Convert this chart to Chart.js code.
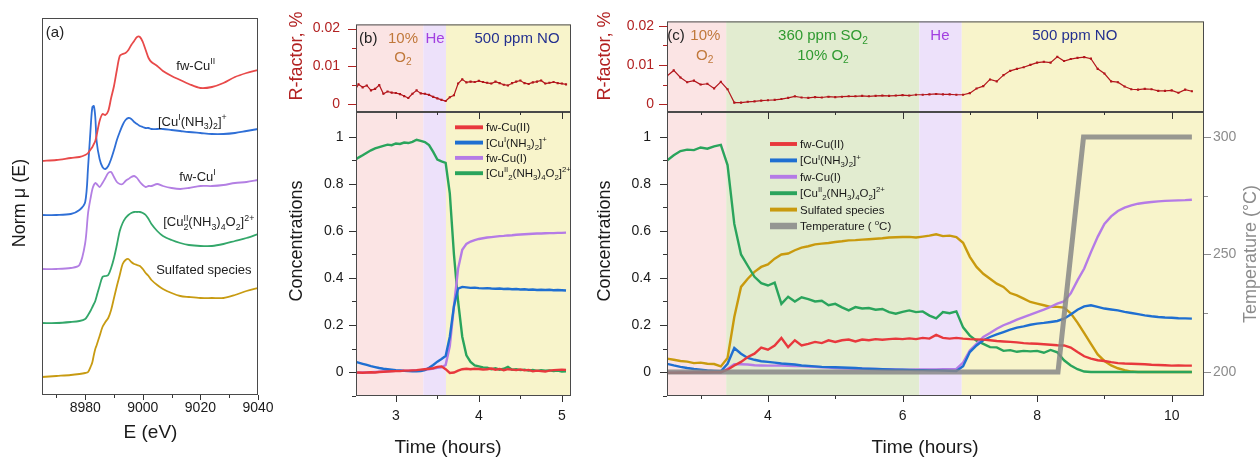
<!DOCTYPE html>
<html lang="en">
<head>
<meta charset="utf-8">
<title>Cu speciation during O2 / SO2 / NO exposure</title>
<script src="https://cdn.jsdelivr.net/npm/chart.js@4.4.1/dist/chart.umd.min.js"></script>
<style>
  html, body { margin: 0; padding: 0; background: #ffffff; }
  #figure { position: relative; width: 1260px; height: 458px; overflow: hidden; }
  #figure canvas { position: absolute; left: 0; top: 0; }
</style>
</head>
<body>
<div id="figure">
  <canvas id="panelA" width="1260" height="458"></canvas>
  <canvas id="panelBTop" width="1260" height="458"></canvas>
  <canvas id="panelBBottom" width="1260" height="458"></canvas>
  <canvas id="panelCTop" width="1260" height="458"></canvas>
  <canvas id="panelCBottom" width="1260" height="458"></canvas>
</div>
<script>
const FONT = "'Liberation Sans', Arial, Helvetica, sans-serif";
Chart.defaults.font.family = FONT;
Chart.defaults.color = "#1a1a1a";

// (a) reference XANES spectra, normalised, stacked by specOffset
const energy = [8965, 8970, 8975, 8978, 8980, 8981, 8982, 8982.5, 8983, 8983.5, 8984, 8985, 8986, 8987, 8988, 8989, 8990, 8991, 8992, 8993, 8994, 8995, 8996, 8997, 8998, 8999, 9000, 9001, 9002, 9003, 9005, 9007, 9010, 9013, 9016, 9020, 9024, 9028, 9032, 9036, 9040];
const muCuII = [0.00, 0.01, 0.03, 0.04, 0.06, 0.08, 0.12, 0.14, 0.17, 0.20, 0.26, 0.40, 0.47, 0.46, 0.50, 0.63, 0.75, 0.91, 1.05, 1.07, 1.08, 1.11, 1.16, 1.20, 1.24, 1.24, 1.19, 1.11, 1.03, 0.99, 0.95, 0.90, 0.85, 0.81, 0.77, 0.73, 0.74, 0.78, 0.84, 0.88, 0.91];
const muCuINH3 = [0.00, 0.00, 0.01, 0.05, 0.13, 0.48, 0.92, 1.08, 1.09, 0.98, 0.73, 0.56, 0.48, 0.46, 0.49, 0.56, 0.65, 0.75, 0.83, 0.90, 0.95, 0.97, 0.96, 0.93, 0.91, 0.89, 0.88, 0.87, 0.87, 0.86, 0.86, 0.86, 0.85, 0.84, 0.83, 0.82, 0.81, 0.81, 0.82, 0.84, 0.86];
const muCuI = [0.00, 0.00, 0.01, 0.04, 0.26, 0.56, 0.73, 0.80, 0.84, 0.86, 0.85, 0.82, 0.86, 0.91, 0.96, 0.97, 0.92, 0.87, 0.85, 0.85, 0.88, 0.90, 0.92, 0.93, 0.91, 0.87, 0.84, 0.82, 0.83, 0.83, 0.85, 0.83, 0.81, 0.80, 0.81, 0.83, 0.83, 0.84, 0.86, 0.87, 0.89];
const muDimer = [0.00, 0.00, 0.01, 0.02, 0.04, 0.08, 0.13, 0.16, 0.19, 0.22, 0.27, 0.37, 0.46, 0.47, 0.48, 0.55, 0.65, 0.78, 0.92, 1.00, 1.05, 1.08, 1.10, 1.11, 1.11, 1.11, 1.10, 1.08, 1.04, 0.99, 0.92, 0.87, 0.83, 0.80, 0.78, 0.77, 0.77, 0.79, 0.82, 0.85, 0.89];
const muSulfated = [0.00, 0.01, 0.02, 0.03, 0.04, 0.05, 0.11, 0.15, 0.22, 0.28, 0.32, 0.41, 0.50, 0.55, 0.59, 0.67, 0.79, 0.91, 1.02, 1.13, 1.17, 1.18, 1.15, 1.13, 1.12, 1.11, 1.08, 1.04, 1.01, 0.97, 0.92, 0.88, 0.84, 0.81, 0.80, 0.79, 0.79, 0.79, 0.82, 0.86, 0.89];
const specOffset = [2.34, 1.80, 1.26, 0.72, 0.18];
const energyTicks = [8980, 9000, 9020, 9040];
const energyMinor = [8970, 8990, 9010, 9030];

// (b) O2 -> He -> NO, sampled every 0.05 h
const tB = Array.from({ length: 52 }, (_, i) => 2.5 + i * 0.05);
const rfB = [0.0034, 0.0053, 0.0045, 0.0050, 0.0037, 0.0041, 0.0051, 0.0028, 0.0034, 0.0031,
  0.0030, 0.0027, 0.0022, 0.0017, 0.0028, 0.0037, 0.0029, 0.0028, 0.0025, 0.0020,
  0.0016, 0.0012, 0.0009, 0.0019, 0.0024, 0.0055, 0.0066, 0.0058, 0.0060, 0.0059,
  0.0062, 0.0059, 0.0057, 0.0055, 0.0060, 0.0056, 0.0052, 0.0050, 0.0056, 0.0060,
  0.0063, 0.0056, 0.0054, 0.0058, 0.0060, 0.0063, 0.0055, 0.0057, 0.0059, 0.0056,
  0.0055, 0.0053];
const cuIIB = [-0.003, -0.002, -0.003, -0.002, -0.001, -0.002, 0.000, 0.001, 0.002, 0.003,
  0.004, 0.004, 0.006, 0.006, 0.007, 0.008, 0.010, 0.012, 0.014, 0.016,
  0.022, 0.024, 0.012, -0.004, -0.002, 0.006, 0.012, 0.014, 0.012, 0.014,
  0.013, 0.011, 0.012, 0.015, 0.010, 0.013, 0.008, 0.012, 0.010, 0.008,
  0.011, 0.007, 0.009, 0.003, 0.006, 0.004, 0.002, 0.006, 0.008, 0.009,
  0.010, 0.009];
const cuINH3B = [0.044, 0.040, 0.035, 0.030, 0.025, 0.021, 0.017, 0.014, 0.012, 0.010,
  0.008, 0.007, 0.005, 0.004, 0.003, 0.003, 0.004, 0.008, 0.018, 0.030,
  0.044, 0.055, 0.068, 0.150, 0.280, 0.355, 0.362, 0.360, 0.358, 0.359,
  0.357, 0.356, 0.357, 0.355, 0.354, 0.355, 0.353, 0.354, 0.352, 0.353,
  0.351, 0.352, 0.350, 0.351, 0.349, 0.350, 0.349, 0.350, 0.348, 0.349,
  0.348, 0.347];
const cuIB = [-0.003, -0.003, -0.002, -0.002, -0.001, 0.000, 0.001, 0.002, 0.003, 0.004,
  0.005, 0.005, 0.006, 0.006, 0.007, 0.008, 0.008, 0.010, 0.012, 0.015,
  0.018, 0.020, 0.030, 0.110, 0.280, 0.440, 0.520, 0.545, 0.555, 0.561,
  0.566, 0.569, 0.572, 0.574, 0.576, 0.578, 0.579, 0.581, 0.582, 0.584,
  0.585, 0.586, 0.587, 0.588, 0.589, 0.589, 0.590, 0.591, 0.591, 0.592,
  0.592, 0.593];
const dimerB = [0.900, 0.912, 0.922, 0.933, 0.943, 0.951, 0.957, 0.962, 0.967, 0.965,
  0.972, 0.970, 0.976, 0.974, 0.979, 0.988, 0.983, 0.978, 0.965, 0.936,
  0.904, 0.896, 0.890, 0.760, 0.500, 0.300, 0.150, 0.071, 0.043, 0.028,
  0.024, 0.020, 0.018, 0.012, 0.016, 0.010, 0.014, 0.022, 0.010, 0.012,
  0.008, 0.010, 0.006, 0.009, 0.005, 0.008, 0.006, 0.007, 0.004, 0.006,
  0.002, 0.003];
const bandsB = [[2.0, 3.331, "o2"], [3.331, 3.604, "he"], [3.604, 6.0, "no"]];

// (c) O2 -> SO2 + O2 -> He -> NO with temperature ramp, sampled every 0.1 h
const tC = Array.from({ length: 79 }, (_, i) => 2.5 + i * 0.1);
const rfC = [0.0072, 0.0086, 0.0068, 0.0056, 0.0060, 0.0050, 0.0052, 0.0040, 0.0057, 0.0038,
  0.0004, 0.0004, 0.0006, 0.0007, 0.0009, 0.0010, 0.0011, 0.0013, 0.0016, 0.0020,
  0.0017, 0.0016, 0.0018, 0.0017, 0.0019, 0.0018, 0.0019, 0.0020, 0.0020, 0.0021,
  0.0020, 0.0021, 0.0022, 0.0021, 0.0022, 0.0023, 0.0022, 0.0024, 0.0024, 0.0025,
  0.0026, 0.0025, 0.0025, 0.0024, 0.0024, 0.0028, 0.0040, 0.0046, 0.0063, 0.0058,
  0.0074, 0.0085, 0.0090, 0.0094, 0.0100, 0.0106, 0.0108, 0.0106, 0.0121, 0.0110,
  0.0115, 0.0118, 0.0120, 0.0116, 0.0090, 0.0078, 0.0058, 0.0056, 0.0045, 0.0038,
  0.0037, 0.0039, 0.0038, 0.0034, 0.0034, 0.0035, 0.0029, 0.0037, 0.0033];
const cuIIC = [-0.003, -0.003, -0.002, -0.003, -0.002, -0.002, -0.002, -0.001, -0.001, 0.010,
  0.028, 0.043, 0.064, 0.078, 0.104, 0.095, 0.113, 0.145, 0.106, 0.135,
  0.113, 0.120, 0.128, 0.123, 0.135, 0.128, 0.135, 0.138, 0.130, 0.138,
  0.135, 0.140, 0.137, 0.140, 0.142, 0.140, 0.143, 0.140, 0.145, 0.142,
  0.158, 0.145, 0.142, 0.145, 0.142, 0.140, 0.139, 0.138, 0.135, 0.132,
  0.130, 0.128, 0.126, 0.123, 0.121, 0.120, 0.118, 0.116, 0.114, 0.113,
  0.104, 0.085, 0.067, 0.057, 0.050, 0.047, 0.042, 0.038, 0.036, 0.035,
  0.034, 0.033, 0.031, 0.030, 0.029, 0.027, 0.028, 0.027, 0.027];
const cuINH3C = [0.035, 0.028, 0.022, 0.017, 0.013, 0.010, 0.007, 0.005, 0.003, 0.035,
  0.102, 0.078, 0.060, 0.052, 0.046, 0.043, 0.040, 0.036, 0.034, 0.032,
  0.028, 0.026, 0.024, 0.022, 0.021, 0.020, 0.019, 0.018, 0.017, 0.015,
  0.014, 0.013, 0.012, 0.011, 0.010, 0.010, 0.009, 0.008, 0.008, 0.007,
  0.007, 0.006, 0.005, 0.004, 0.025, 0.085, 0.113, 0.135, 0.149, 0.160,
  0.170, 0.180, 0.189, 0.194, 0.201, 0.206, 0.209, 0.213, 0.217, 0.227,
  0.245, 0.265, 0.279, 0.284, 0.277, 0.270, 0.266, 0.262, 0.256, 0.251,
  0.246, 0.241, 0.237, 0.234, 0.232, 0.231, 0.229, 0.228, 0.227];
const cuIC = [-0.003, -0.003, -0.003, -0.003, -0.002, -0.002, -0.002, -0.002, -0.002, 0.014,
  0.033, 0.033, 0.032, 0.029, 0.028, 0.027, 0.027, 0.028, 0.026, 0.025,
  0.025, 0.023, 0.022, 0.020, 0.019, 0.017, 0.016, 0.015, 0.014, 0.014,
  0.013, 0.013, 0.012, 0.012, 0.011, 0.010, 0.010, 0.011, 0.011, 0.011,
  0.011, 0.012, 0.012, 0.013, 0.040, 0.092, 0.120, 0.149, 0.166, 0.184,
  0.199, 0.210, 0.223, 0.234, 0.244, 0.255, 0.265, 0.277, 0.291, 0.300,
  0.335, 0.390, 0.440, 0.510, 0.575, 0.630, 0.662, 0.685, 0.699, 0.709,
  0.716, 0.720, 0.723, 0.726, 0.728, 0.729, 0.730, 0.731, 0.733];
const dimerC = [0.900, 0.922, 0.940, 0.946, 0.944, 0.955, 0.950, 0.960, 0.966, 0.880,
  0.630, 0.500, 0.452, 0.405, 0.378, 0.368, 0.380, 0.290, 0.320, 0.300,
  0.318, 0.310, 0.300, 0.303, 0.284, 0.290, 0.275, 0.262, 0.276, 0.270,
  0.272, 0.265, 0.268, 0.255, 0.248, 0.256, 0.262, 0.255, 0.258, 0.240,
  0.228, 0.255, 0.250, 0.258, 0.190, 0.155, 0.133, 0.120, 0.106, 0.105,
  0.090, 0.093, 0.086, 0.090, 0.088, 0.090, 0.082, 0.094, 0.084, 0.050,
  0.028, 0.012, 0.002, 0.000, 0.000, 0.000, 0.000, 0.000, 0.000, 0.000,
  0.000, 0.000, 0.000, 0.000, 0.000, 0.000, 0.000, 0.000, 0.000];
const sulfC = [0.057, 0.052, 0.047, 0.044, 0.038, 0.040, 0.035, 0.034, 0.024, 0.060,
  0.234, 0.362, 0.397, 0.426, 0.447, 0.458, 0.482, 0.500, 0.504, 0.518,
  0.529, 0.535, 0.543, 0.546, 0.549, 0.553, 0.556, 0.560, 0.561, 0.563,
  0.565, 0.567, 0.569, 0.572, 0.573, 0.574, 0.575, 0.572, 0.576, 0.580,
  0.586, 0.578, 0.580, 0.574, 0.550, 0.490, 0.447, 0.418, 0.397, 0.376,
  0.362, 0.336, 0.326, 0.312, 0.298, 0.291, 0.284, 0.277, 0.277, 0.274,
  0.250, 0.210, 0.165, 0.120, 0.075, 0.047, 0.028, 0.016, 0.008, 0.002,
  0.000, 0.000, 0.000, 0.000, 0.000, 0.000, 0.000, 0.000, 0.000];
const tempT = [2.5, 8.31, 8.69, 10.3];
const tempV = [200, 200, 300, 300];
const bandsC = [[2.0, 3.38, "o2"], [3.38, 6.25, "so2"], [6.25, 6.88, "he"], [6.88, 11.0, "no"]];

// shared axis ticks
const concTicks = [0, 0.2, 0.4, 0.6, 0.8, 1];
const concMinor = [-0.1, 0.1, 0.3, 0.5, 0.7, 0.9];
const rfTicks = [0, 0.01, 0.02];
const rfMinor = [0.005, 0.015];
const timeTicksB = [3, 4, 5];
const timeMinorB = [3.5, 4.5];
const timeTicksC = [4, 6, 8, 10];
const timeMinorC = [3, 5, 7, 9];
const tempTicks = [200, 250, 300];
const tempMinor = [225, 275];

const COL = {
  cuII: "#e8383d", cuINH3: "#1f6fd1", cuI: "#b57be6", dimer: "#2aa45c",
  sulf: "#c99a0e", temp: "rgba(135,135,135,0.85)", rf: "#b3161c",
  rfText: "#b22222", tempText: "#8c8c8c"
};
const BAND = { o2: "#fbe4e4", he: "#ede1fa", no: "#f8f4cb", so2: "#e2ecd0" };
const NAMES = {
  cuII: "fw-Cu(II)",
  cuINH3: "[Cu^{I}(NH_{3})_{2}]^{+}",
  cuI: "fw-Cu(I)",
  dimer: "[Cu^{II}\u200b_{2}(NH_{3})_{4}O_{2}]^{2+}",
  sulf: "Sulfated species",
  temp: "Temperature ( ^{o}C)"
};

// tiny markup: ^{sup} _{sub}; a sub right after a sup is stacked under it
function parseRich(str) {
  const out = [];
  const re = /([\^_])\{([^}]*)\}|([^\^_]+)/g;
  let m;
  while ((m = re.exec(str))) {
    if (m[3] !== undefined) out.push({ t: m[3], m: 0 });
    else out.push({ t: m[2], m: m[1] === "^" ? 1 : -1 });
  }
  return out;
}

function drawRich(ctx, str, x, y, size, color, align) {
  let pos = 0, prev = null;
  const items = [];
  for (const p of parseRich(str)) {
    const fs = p.m ? size * 0.68 : size;
    ctx.font = fs + "px " + FONT;
    const w = ctx.measureText(p.t).width;
    let x0 = pos;
    if (prev && prev.m === 1 && p.m === -1) {
      x0 = prev.x;
      pos = Math.max(prev.x + prev.w, x0 + w);
    } else {
      pos += w;
    }
    const it = { t: p.t, m: p.m, fs, x: x0, w };
    items.push(it);
    prev = it;
  }
  const start = align === "center" ? x - pos / 2 : align === "right" ? x - pos : x;
  const base = y + size * 0.35;
  ctx.fillStyle = color;
  ctx.textAlign = "left";
  ctx.textBaseline = "alphabetic";
  for (const it of items) {
    ctx.font = it.fs + "px " + FONT;
    const dy = it.m > 0 ? -size * 0.42 : it.m < 0 ? size * 0.25 : 0;
    ctx.fillText(it.t, start + it.x, base + dy);
  }
}

// shaded gas periods, frame, tick marks, notes, legend and axis titles
function decor(cfg) {
  return {
    id: "decor",
    beforeDatasetsDraw(chart) {
      const { ctx, chartArea: a } = chart;
      const xs = chart.scales.x;
      ctx.save();
      (cfg.bands || []).forEach(([from, to, key]) => {
        const x0 = Math.max(a.left, xs.getPixelForValue(from));
        const x1 = Math.min(a.right, xs.getPixelForValue(to));
        ctx.fillStyle = BAND[key];
        ctx.fillRect(x0, a.top, x1 - x0, a.bottom - a.top);
      });
      ctx.restore();
    },
    afterDraw(chart) {
      const { ctx, chartArea: a } = chart;
      ctx.save();
      ctx.strokeStyle = "#4a4a4a";
      ctx.lineWidth = 1;
      ctx.strokeRect(a.left + 0.5, a.top + 0.5, a.right - a.left - 1, a.bottom - a.top - 1);

      (cfg.marks || []).forEach(m => {
        const s = chart.scales[m.scale];
        ctx.strokeStyle = m.color || "#333";
        ctx.lineWidth = 1;
        ctx.beginPath();
        m.values.forEach(v => {
          const p = Math.round(s.getPixelForValue(v)) + 0.5;
          if (m.edge === "bottom") { ctx.moveTo(p, a.bottom); ctx.lineTo(p, a.bottom + m.len); }
          else if (m.edge === "top") { ctx.moveTo(p, a.top); ctx.lineTo(p, a.top - m.len); }
          else if (m.edge === "left") { ctx.moveTo(a.left, p); ctx.lineTo(a.left - m.len, p); }
          else { ctx.moveTo(a.right, p); ctx.lineTo(a.right + m.len, p); }
        });
        ctx.stroke();
      });

      (cfg.notes || []).forEach(n => {
        const x = chart.scales.x.getPixelForValue(n.x);
        const y = chart.scales.y.getPixelForValue(n.y);
        drawRich(ctx, n.text, x, y, n.size || 15, n.color || "#222", "center");
      });

      if (cfg.legend) {
        const L = cfg.legend;
        chart.data.datasets.forEach((ds, i) => {
          const y = L.y + i * L.dy;
          ctx.strokeStyle = ds.borderColor;
          ctx.lineWidth = ds.borderWidth + 1.5;
          ctx.beginPath();
          ctx.moveTo(L.x0, y);
          ctx.lineTo(L.x1, y);
          ctx.stroke();
          drawRich(ctx, ds.label, L.tx, y, L.size, "#1a1a1a", "left");
        });
      }

      (cfg.titles || []).forEach(t => {
        ctx.save();
        ctx.translate(t.x, t.y);
        if (t.rot) ctx.rotate(-Math.PI / 2);
        ctx.font = (t.size || 18) + "px " + FONT;
        ctx.fillStyle = t.color || "#1a1a1a";
        ctx.textAlign = "center";
        ctx.textBaseline = "middle";
        ctx.fillText(t.text, 0, 0);
        ctx.restore();
      });
      ctx.restore();
    }
  };
}

// linear axis with a fixed box size so every plot area lands where it should
function axis({ min, max, ticks, pos, size, pad = 6, color = "#1a1a1a" }) {
  const ax = {
    type: "linear", position: pos, min, max, display: true,
    grid: { display: false, drawTicks: false },
    border: { display: false },
    ticks: { display: false },
    afterFit: s => { if (s.isHorizontal()) s.height = size; else s.width = size; }
  };
  if (ticks) {
    ax.ticks = {
      display: true, padding: pad, color, font: { size: 14 },
      autoSkip: false, maxRotation: 0,
      callback: v => String(+(+v).toFixed(4))
    };
    ax.afterBuildTicks = s => { s.ticks = ticks.map(v => ({ value: v })); };
  }
  return ax;
}

function series(label, xs, ys, color, width, extra) {
  return Object.assign({
    label,
    data: xs.map((x, i) => ({ x, y: ys[i] })),
    borderColor: color,
    backgroundColor: color,
    borderWidth: width,
    pointRadius: 0,
    tension: 0,
    fill: false
  }, extra || {});
}

function rfSeries(xs, ys) {
  return series("R-factor", xs, ys, COL.rf, 1.2, {
    pointRadius: 1.5, pointStyle: "rect", pointBorderWidth: 0, pointBackgroundColor: COL.rf
  });
}

function panel(id, padding, scales, datasets, deco) {
  return new Chart(document.getElementById(id), {
    type: "line",
    data: { datasets },
    options: {
      responsive: false,
      animation: false,
      devicePixelRatio: 1,
      events: [],
      layout: { padding },
      plugins: { legend: { display: false }, tooltip: { enabled: false } },
      scales
    },
    plugins: [decor(deco)]
  });
}

// ---------- (a) ----------
const specColors = ["#e84a4a", "#2f6fd6", "#b37fe3", "#33a76a", "#c89b12"];
const specLabels = ["fw-CuII", "[CuI(NH3)2]+", "fw-CuI", "[CuII2(NH3)4O2]2+", "Sulfated species"];
panel("panelA",
  { left: 9, top: 18, right: 1002, bottom: 0 },
  {
    x: axis({ min: 8965, max: 9040, ticks: energyTicks, pos: "bottom", size: 63, pad: 5 }),
    y: axis({ min: 0, max: 3.77, ticks: null, pos: "left", size: 33 })
  },
  [muCuII, muCuINH3, muCuI, muDimer, muSulfated].map((mu, k) =>
    series(specLabels[k], energy, mu.map(v => v + specOffset[k]), specColors[k], 1.8, { tension: 0.3 })),
  {
    marks: [
      { scale: "x", edge: "bottom", values: energyTicks, len: 5 },
      { scale: "x", edge: "bottom", values: energyMinor, len: 3 }
    ],
    notes: [
      { text: "(a)", x: 8969.5, y: 3.63, size: 15 },
      { text: "fw-Cu^{II}", x: 9018.4, y: 3.30, size: 13 },
      { text: "[Cu^{I}(NH_{3})_{2}]^{+}", x: 9017.2, y: 2.74, size: 13 },
      { text: "fw-Cu^{I}", x: 9019, y: 2.19, size: 13 },
      { text: "[Cu^{II}_{2}(NH_{3})_{4}O_{2}]^{2+}", x: 9022.9, y: 1.733, size: 13 },
      { text: "Sulfated species", x: 9021.2, y: 1.26, size: 13 }
    ],
    titles: [
      { text: "Norm \u03bc (E)", x: 20, y: 203, rot: true, size: 18 },
      { text: "E (eV)", x: 150.5, y: 433, size: 19 }
    ]
  });

// ---------- (b) ----------
const NOTE = { o2: "#c0783a", he: "#a23fe0", no: "#24308f", so2: "#2f9a30" };
panel("panelBTop",
  { left: 286, top: 18, right: 689, bottom: 346 },
  {
    x: { type: "linear", min: 2.52, max: 5.11, display: false },
    y: axis({ min: -0.002, max: 0.0211, ticks: rfTicks, pos: "left", size: 70, pad: 16, color: COL.rfText })
  },
  [rfSeries(tB, rfB)],
  {
    bands: bandsB,
    marks: [
      { scale: "y", edge: "left", values: rfTicks, len: 8, color: COL.rfText },
      { scale: "y", edge: "left", values: rfMinor, len: 4, color: COL.rfText }
    ],
    notes: [
      { text: "(b)", x: 2.668, y: 0.0177, color: "#222" },
      { text: "10%", x: 3.086, y: 0.0177, color: NOTE.o2 },
      { text: "O_{2}", x: 3.086, y: 0.0127, color: NOTE.o2 },
      { text: "He", x: 3.472, y: 0.0177, color: NOTE.he },
      { text: "500 ppm NO", x: 4.46, y: 0.0177, color: NOTE.no }
    ],
    titles: [{ text: "R-factor, %", x: 297, y: 56, rot: true, color: COL.rfText }]
  });

panel("panelBBottom",
  { left: 286, top: 112, right: 689, bottom: 0 },
  {
    x: axis({ min: 2.52, max: 5.11, ticks: timeTicksB, pos: "bottom", size: 62, pad: 11.6 }),
    y: axis({ min: -0.102, max: 1.106, ticks: concTicks, pos: "left", size: 70, pad: 12.5 })
  },
  [
    series(NAMES.cuII, tB, cuIIB, COL.cuII, 2.4),
    series(NAMES.cuINH3, tB, cuINH3B, COL.cuINH3, 2.4),
    series(NAMES.cuI, tB, cuIB, COL.cuI, 2.4),
    series(NAMES.dimer, tB, dimerB, COL.dimer, 2.4)
  ],
  {
    bands: bandsB,
    marks: [
      { scale: "y", edge: "left", values: concTicks, len: 7 },
      { scale: "y", edge: "left", values: concMinor, len: 4 },
      { scale: "x", edge: "bottom", values: timeTicksB, len: 6 },
      { scale: "x", edge: "bottom", values: timeMinorB, len: 3 },
      { scale: "x", edge: "top", values: timeTicksB, len: -7 },
      { scale: "x", edge: "top", values: timeMinorB, len: -3 }
    ],
    legend: { x0: 455, x1: 483, tx: 486, y: 127.3, dy: 15.3, size: 11.5 },
    titles: [
      { text: "Concentrations", x: 297, y: 241, rot: true },
      { text: "Time (hours)", x: 448, y: 447.5, size: 19 }
    ]
  });

// ---------- (c) ----------
panel("panelCTop",
  { left: 596, top: 18, right: 56, bottom: 346 },
  {
    x: { type: "linear", min: 2.5, max: 10.48, display: false },
    y: axis({ min: -0.002, max: 0.0211, ticks: rfTicks, pos: "left", size: 71, pad: 13, color: COL.rfText })
  },
  [rfSeries(tC, rfC)],
  {
    bands: bandsC,
    marks: [
      { scale: "y", edge: "left", values: rfTicks, len: 8, color: COL.rfText },
      { scale: "y", edge: "left", values: rfMinor, len: 4, color: COL.rfText }
    ],
    notes: [
      { text: "(c)", x: 2.634, y: 0.0177, color: "#222" },
      { text: "10%", x: 3.07, y: 0.0177, color: NOTE.o2 },
      { text: "O_{2}", x: 3.06, y: 0.0127, color: NOTE.o2 },
      { text: "360 ppm SO_{2}", x: 4.818, y: 0.0177, color: NOTE.so2 },
      { text: "10% O_{2}", x: 4.818, y: 0.0127, color: NOTE.so2 },
      { text: "He", x: 6.556, y: 0.0177, color: NOTE.he },
      { text: "500 ppm NO", x: 8.56, y: 0.0177, color: NOTE.no }
    ],
    titles: [{ text: "R-factor, %", x: 605, y: 56, rot: true, color: COL.rfText }]
  });

panel("panelCBottom",
  { left: 596, top: 112, right: 6, bottom: 0 },
  {
    x: axis({ min: 2.5, max: 10.48, ticks: timeTicksC, pos: "bottom", size: 62, pad: 11.6 }),
    y: axis({ min: -0.102, max: 1.106, ticks: concTicks, pos: "left", size: 71, pad: 16 }),
    yT: axis({ min: 189.8, max: 310.6, ticks: tempTicks, pos: "right", size: 50, pad: 9, color: COL.tempText })
  },
  [
    series(NAMES.cuII, tC, cuIIC, COL.cuII, 2.4),
    series(NAMES.cuINH3, tC, cuINH3C, COL.cuINH3, 2.4),
    series(NAMES.cuI, tC, cuIC, COL.cuI, 2.4),
    series(NAMES.dimer, tC, dimerC, COL.dimer, 2.4),
    series(NAMES.sulf, tC, sulfC, COL.sulf, 2.4),
    series(NAMES.temp, tempT, tempV, COL.temp, 5, { yAxisID: "yT", order: -1 })
  ],
  {
    bands: bandsC,
    marks: [
      { scale: "y", edge: "left", values: concTicks, len: 7 },
      { scale: "y", edge: "left", values: concMinor, len: 4 },
      { scale: "x", edge: "bottom", values: timeTicksC, len: 6 },
      { scale: "x", edge: "bottom", values: timeMinorC, len: 3 },
      { scale: "x", edge: "top", values: timeTicksC, len: -7 },
      { scale: "x", edge: "top", values: timeMinorC, len: -3 },
      { scale: "yT", edge: "right", values: tempTicks, len: 7, color: COL.tempText },
      { scale: "yT", edge: "right", values: tempMinor, len: 4, color: COL.tempText }
    ],
    legend: { x0: 770, x1: 797, tx: 800, y: 144, dy: 16.4, size: 11.5 },
    titles: [
      { text: "Concentrations", x: 605, y: 241, rot: true },
      { text: "Time (hours)", x: 925, y: 447.5, size: 19 },
      { text: "Temperature (\u00b0C)", x: 1251, y: 254, rot: true, color: COL.tempText }
    ]
  });
</script>
</body>
</html>
